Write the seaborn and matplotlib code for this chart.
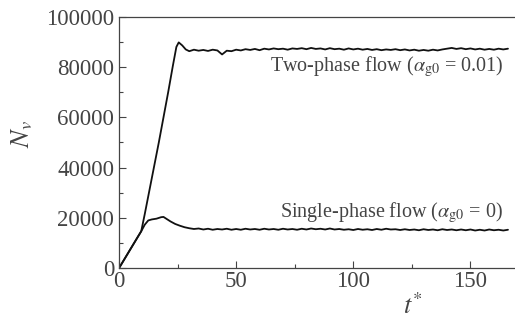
import seaborn as sns
import matplotlib.pyplot as plt
import pandas as pd
import numpy as np
from matplotlib.ticker import MultipleLocator

# start-up part of both runs (shared ramp, then split)
t_two_head = [0, 2, 4, 6, 8, 9.5, 11, 13, 15, 17, 19, 21, 23, 24.5, 25.5, 27, 28.5]
n_two_head = [0, 3100, 6200, 9300, 12400, 14700, 21500, 31000, 40500, 50000,
              60000, 70000, 80500, 88000, 89800, 88600, 87000]

t_one_head = [0, 2, 4, 6, 8, 9.5, 11, 12.5, 14, 16, 18, 19, 20, 22, 24, 26, 28]
n_one_head = [0, 3100, 6200, 9300, 12400, 14700, 17300, 19000, 19400, 19700,
              20300, 20400, 19800, 18600, 17600, 16900, 16300]

# plateau part, sampled every 2 time units from t* = 30 to 166
t_tail = np.arange(30, 167, 2)
n_two_tail = [86300, 86900, 86500, 86800, 86400, 86900, 86600, 85000, 86500, 86300,
              86900, 86600, 87100, 86800, 87200, 86700, 87300, 87000, 87400, 87100,
              87300, 86900, 87400, 87200, 87500, 87100, 87600, 87200, 87400, 87000,
              87500, 87100, 87300, 86900, 87400, 87000, 87300, 86900, 87200, 86800,
              87100, 86700, 87000, 86800, 87100, 86700, 87000, 86600, 86900, 86500,
              86800, 86500, 86900, 86600, 87000, 87300, 87600, 87200, 87500, 87100,
              87400, 87000, 87300, 86900, 87200, 86900, 87300, 87000, 87300]
n_one_tail = [15900, 15600, 15800, 15400, 15700, 15300, 15600, 15400, 15700, 15300,
              15600, 15300, 15700, 15400, 15600, 15300, 15700, 15400, 15600, 15300,
              15700, 15400, 15600, 15300, 15700, 15400, 15800, 15500, 15700, 15400,
              15800, 15400, 15600, 15300, 15500, 15200, 15600, 15300, 15500, 15200,
              15600, 15300, 15700, 15400, 15500, 15200, 15500, 15200, 15400, 15100,
              15500, 15200, 15400, 15100, 15500, 15200, 15400, 15100, 15400, 15100,
              15400, 15000, 15300, 15000, 15400, 15100, 15300, 15000, 15300]

two = pd.DataFrame({'t': list(t_two_head) + list(t_tail),
                    'N': n_two_head + n_two_tail})
one = pd.DataFrame({'t': list(t_one_head) + list(t_tail),
                    'N': n_one_head + n_one_tail})

sns.set_style('ticks')
plt.rcParams['font.family'] = ['Liberation Serif', 'DejaVu Serif']
plt.rcParams['mathtext.fontset'] = 'stix'

ink = '#444444'
fig = plt.figure(figsize=(5.15, 3.22), dpi=100)
ax = fig.add_axes([0.231, 0.167, 0.769, 0.781])

sns.lineplot(data=two, x='t', y='N', ax=ax, color='#111111', lw=1.3)
sns.lineplot(data=one, x='t', y='N', ax=ax, color='#111111', lw=1.3)

ax.set_xlim(0, 169)
ax.set_ylim(0, 100000)
ax.xaxis.set_major_locator(MultipleLocator(50))
ax.xaxis.set_minor_locator(MultipleLocator(25))
ax.yaxis.set_major_locator(MultipleLocator(20000))
ax.yaxis.set_minor_locator(MultipleLocator(10000))
ax.tick_params(which='both', direction='in', color=ink, labelsize=16.5,
               labelcolor=ink, width=0.8)
ax.tick_params(which='major', length=5)
ax.tick_params(which='minor', length=3)
ax.tick_params(axis='x', pad=2)
ax.spines['right'].set_visible(False)
for s in ['left', 'bottom', 'top']:
    ax.spines[s].set_color(ink)
    ax.spines[s].set_linewidth(0.9)

ax.set_xlabel('')
ax.set_ylabel('')
fig.text(0.043, 0.585, r'$N_v$', rotation=90, ha='center', va='center',
         fontsize=19, color=ink)
fig.text(0.802, 0.05, r'$t^{*}$', ha='center', va='center', fontsize=19, color=ink)

ax.text(164, 80200, r'Two-phase flow ($\alpha_{\mathrm{g0}}$ = 0.01)', ha='right',
        va='center', fontsize=14.5, color=ink)
ax.text(164, 22300, r'Single-phase flow ($\alpha_{\mathrm{g0}}$ = 0)', ha='right',
        va='center', fontsize=14.5, color=ink)

fig.savefig('out.png', dpi=100)
